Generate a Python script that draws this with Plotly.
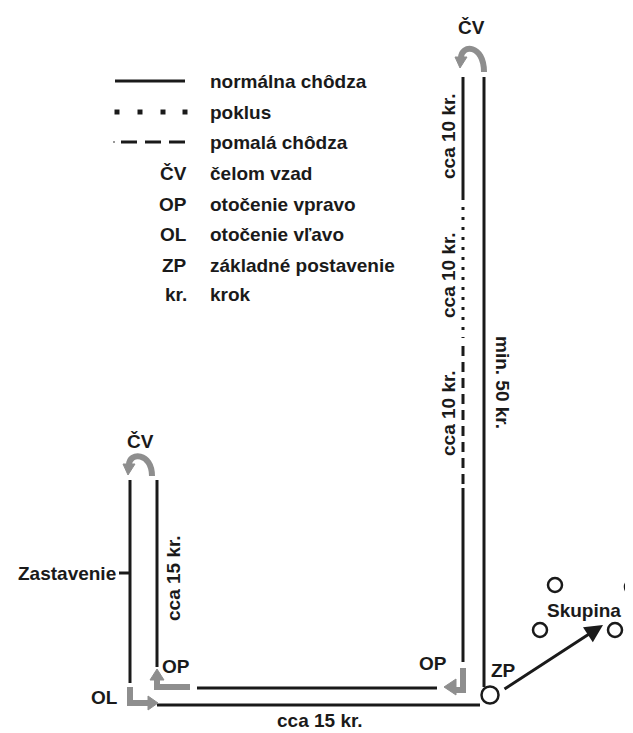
import plotly.graph_objects as go

W, H = 633, 733
PAD = 8  # page body margin of the html page
FONT = "Liberation Sans, Arial, sans-serif"
INK = "#1a1a1a"
GRAY = "#8e8e8e"
FS = 19

# ---------------- data (diagram geometry, page pixels) ----------------
legend_rows_y = [81, 112, 142, 173, 204, 234, 265, 294]
legend_abbr = ["", "", "", "ČV", "OP", "OL", "ZP", "kr."]
legend_desc = ["normálna chôdza", "poklus", "pomalá chôdza", "čelom vzad",
               "otočenie vpravo", "otočenie vľavo", "základné postavenie", "krok"]
legend_line_x = [115, 185]
legend_dot_x = [117, 140, 163, 185]

solid_x0 = [484, 463, 463, 157, 197, 130, 157, 119]
solid_y0 = [77, 77, 488, 705, 688, 480, 480, 573]
solid_x1 = [484, 463, 463, 480, 437, 130, 157, 130]
solid_y1 = [687, 200, 662, 705, 688, 683, 667, 573]

dotted_x = [463, 463]
dotted_y = [207, 338]
dashed_x = [463, 463]
dashed_y = [346, 484]

group_x = [555, 540, 615, 632]
group_y = [585, 630, 630, 587]
zp_x = [490]
zp_y = [695]

walk_arrow = [503, 690, 603, 625]  # ZP -> Skupina

labels = [
    # text, x, y, angle, anchor
    ("ČV", 471, 27, 0, "center"),
    ("ČV", 140, 441, 0, "center"),
    ("cca 10 kr.", 448, 136, -90, "center"),
    ("cca 10 kr.", 448, 275, -90, "center"),
    ("cca 10 kr.", 448, 413, -90, "center"),
    ("min. 50 kr.", 503, 382, 90, "center"),
    ("cca 15 kr.", 173, 578, -90, "center"),
    ("Zastavenie", 118, 573, 0, "right"),
    ("OP", 176, 666, 0, "center"),
    ("OL", 104, 697, 0, "center"),
    ("OP", 433, 663, 0, "center"),
    ("ZP", 503, 670, 0, "center"),
    ("Skupina", 584, 610, 0, "center"),
    ("cca 15 kr.", 320, 720, 0, "center"),
]

# gray turn symbols: stroke paths and arrow heads
uturn_right = [(484, 72), (484, 44), (461, 44), (461, 58)]
uturn_right_head = [(455, 57), (467, 57), (460, 68)]
uturn_left = [(152, 476), (152, 452), (129, 452), (129, 465)]
uturn_left_head = [(123, 464), (135, 464), (128, 475)]
ol_stroke = [(130, 687), (130, 703), (149, 703)]
ol_head = [(148, 696), (158, 703), (148, 710)]
opl_stroke = [(190, 687), (157, 687), (157, 679)]
opl_head = [(150, 680), (164, 680), (157, 669)]
opr_stroke = [(463, 668), (463, 690), (455, 690)]
opr_head = [(456, 679), (444, 687), (456, 695)]

# ---------------- figure ----------------
fig = go.Figure()

def seg(x0, y0, x1, y1, dash="solid", width=3, color=INK):
    fig.add_trace(go.Scatter(x=[x0, x1], y=[y0, y1], mode="lines",
                             line=dict(color=color, width=width, dash=dash),
                             hoverinfo="skip", showlegend=False))

for a, b, c, d in zip(solid_x0, solid_y0, solid_x1, solid_y1):
    seg(a, b, c, d)
seg(dotted_x[0], dotted_y[0], dotted_x[1], dotted_y[1], dash="3px,7px")
seg(dashed_x[0], dashed_y[0], dashed_x[1], dashed_y[1], dash="10px,6px")

# legend samples
seg(legend_line_x[0], legend_rows_y[0], legend_line_x[1], legend_rows_y[0])
fig.add_trace(go.Scatter(x=legend_dot_x, y=[legend_rows_y[1]] * len(legend_dot_x),
                         mode="markers", marker=dict(symbol="square", size=5, color=INK),
                         hoverinfo="skip", showlegend=False))
seg(legend_line_x[0] - 2, legend_rows_y[2], legend_line_x[0], legend_rows_y[2], width=2, color="#999")
seg(legend_line_x[0] + 6, legend_rows_y[2], legend_line_x[1], legend_rows_y[2], dash="16px,8px")

for ab, desc, y in zip(legend_abbr, legend_desc, legend_rows_y):
    if ab:
        fig.add_annotation(x=189, y=y, text=f"<b>{ab}</b>", showarrow=False,
                           xanchor="right", yanchor="middle",
                           font=dict(family=FONT, size=FS, color=INK))
    fig.add_annotation(x=208, y=y, text=f"<b>{desc}</b>", showarrow=False,
                       xanchor="left", yanchor="middle",
                       font=dict(family=FONT, size=FS, color=INK))

for t, x, y, ang, anc in labels:
    fig.add_annotation(x=x, y=y, text=f"<b>{t}</b>", showarrow=False, textangle=ang,
                       xanchor=anc, yanchor="middle",
                       font=dict(family=FONT, size=FS, color=INK))

# circles
fig.add_trace(go.Scatter(x=group_x, y=group_y, mode="markers",
                         marker=dict(symbol="circle-open", size=14, color=INK, line=dict(width=2.5)),
                         hoverinfo="skip", showlegend=False))
fig.add_trace(go.Scatter(x=zp_x, y=zp_y, mode="markers",
                         marker=dict(symbol="circle", size=17, color="white", line=dict(width=2.5, color=INK)),
                         hoverinfo="skip", showlegend=False))

# arrow ZP -> Skupina
fig.add_annotation(x=walk_arrow[2], y=walk_arrow[3], ax=walk_arrow[0], ay=walk_arrow[1],
                   xref="x", yref="y", axref="x", ayref="y", text="", showarrow=True,
                   arrowhead=2, arrowsize=1.2, arrowwidth=3, arrowcolor=INK)

def bez(pts):
    (a, b), (c, d), (e, f), (g, h) = pts
    return f"M {a},{b} C {c},{d} {e},{f} {g},{h}"

def poly(pts, close=False):
    s = "M " + " L ".join(f"{x},{y}" for x, y in pts)
    return s + (" Z" if close else "")

shapes = []
for p in (bez(uturn_right), bez(uturn_left), poly(ol_stroke), poly(opl_stroke), poly(opr_stroke)):
    shapes.append(dict(type="path", path=p, xref="x", yref="y",
                       line=dict(color=GRAY, width=6)))
for h in (uturn_right_head, uturn_left_head, ol_head, opl_head, opr_head):
    shapes.append(dict(type="path", path=poly(h, close=True), xref="x", yref="y",
                       fillcolor=GRAY, line=dict(color=GRAY, width=1)))
fig.update_layout(shapes=shapes)

# the page body adds an 8px margin, so the figure is shrunk and its ranges start at PAD
fig.update_layout(
    width=W - PAD, height=H - PAD, margin=dict(l=0, r=0, t=0, b=0),
    paper_bgcolor="white", plot_bgcolor="white",
    xaxis=dict(range=[PAD, W], visible=False, fixedrange=True),
    yaxis=dict(range=[H, PAD], visible=False, fixedrange=True),
    showlegend=False,
)
fig.write_html("out.html")
